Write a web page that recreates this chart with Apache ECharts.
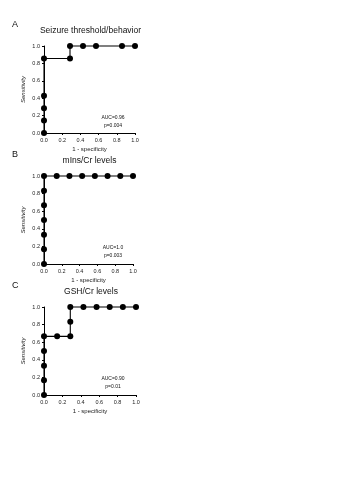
<!DOCTYPE html>
<html>
<head>
<meta charset="utf-8">
<script src="https://cdn.jsdelivr.net/npm/echarts@6/dist/echarts.min.js"></script>
<style>
  html, body { margin: 0; padding: 0; background: #fff; }
  #chart { width: 339px; height: 480px; }
</style>
</head>
<body>
<div id="chart"></div>
<script>
// ROC curves: [1 - specificity, sensitivity] pairs per panel
const seizureRoc = [
  [0, 0], [0, 1/7], [0, 2/7], [0, 3/7], [0, 6/7],
  [2/7, 6/7], [2/7, 1], [3/7, 1], [4/7, 1], [6/7, 1], [1, 1]
];
const minsRoc = [
  [0, 0], [0, 1/6], [0, 2/6], [0, 3/6], [0, 4/6], [0, 5/6], [0, 1],
  [1/7, 1], [2/7, 1], [3/7, 1], [4/7, 1], [5/7, 1], [6/7, 1], [1, 1]
];
const gshRoc = [
  [0, 0], [0, 1/6], [0, 2/6], [0, 3/6], [0, 4/6],
  [1/7, 4/6], [2/7, 4/6], [2/7, 5/6], [2/7, 1],
  [3/7, 1], [4/7, 1], [5/7, 1], [6/7, 1], [1, 1]
];
const panelLetters = ['A', 'B', 'C'];
const panelTitles = ['Seizure threshold/behavior', 'mIns/Cr levels', 'GSH/Cr levels'];
const aucTexts = ['AUC=0.96', 'AUC=1.0', 'AUC=0.90'];
const pTexts = ['p=0.004', 'p=0.003', 'p=0.01'];
const tickLabels = ['0.0', '0.2', '0.4', '0.6', '0.8', '1.0'];

const FONT = '"Liberation Sans", Arial, sans-serif';
const grids = [
  { left: 44, top: 46, width: 91, height: 87 },
  { left: 44, top: 176, width: 89, height: 88 },
  { left: 44, top: 307, width: 92, height: 88 }
];
const allData = [seizureRoc, minsRoc, gshRoc];

function axisCommon(isY, gi) {
  return {
    type: 'value', gridIndex: gi, min: 0, max: 1, interval: 0.2,
    axisLine: { show: true, onZero: false, lineStyle: { color: '#000', width: 1 } },
    axisTick: { show: true, length: 2, lineStyle: { color: '#000', width: 1 } },
    splitLine: { show: false },
    axisLabel: {
      fontFamily: FONT, fontSize: 5.5, color: '#222', margin: 4,
      formatter: v => tickLabels[Math.round(v * 5)]
    },
    name: isY ? 'Sensitivity' : '1 - specificity',
    nameLocation: 'middle',
    nameGap: isY ? 18 : 13,
    nameTextStyle: { fontFamily: FONT, fontSize: 6, color: '#222', fontStyle: isY ? 'italic' : 'normal' }
  };
}

const graphic = [];
grids.forEach((g, i) => {
  graphic.push({
    type: 'text', left: 12, top: g.top - 26,
    style: { text: panelLetters[i], fontFamily: FONT, fontSize: 9, fill: '#111' }
  });
  graphic.push({
    type: 'text', x: g.left + g.width / 2 + 1, y: g.top - 15,
    style: { text: panelTitles[i], fontFamily: FONT, fontSize: 8.5, fill: '#111', align: 'center', verticalAlign: 'middle' }
  });
  graphic.push({
    type: 'text', x: g.left + 69, y: g.top + 72,
    style: { text: aucTexts[i], fontFamily: FONT, fontSize: 5, fill: '#111', align: 'center', verticalAlign: 'middle' }
  });
  graphic.push({
    type: 'text', x: g.left + 69, y: g.top + 80,
    style: { text: pTexts[i], fontFamily: FONT, fontSize: 5, fill: '#111', align: 'center', verticalAlign: 'middle' }
  });
});

const option = {
  animation: false,
  backgroundColor: '#fff',
  grid: grids,
  xAxis: grids.map((g, i) => axisCommon(false, i)),
  yAxis: grids.map((g, i) => axisCommon(true, i)),
  series: allData.map((d, i) => ({
    type: 'line', xAxisIndex: i, yAxisIndex: i, data: d,
    symbol: 'circle', symbolSize: 6, clip: false,
    lineStyle: { color: '#000', width: 1.1 },
    itemStyle: { color: '#000' }
  })),
  graphic: graphic
};

echarts.init(document.getElementById('chart'), null, { renderer: 'canvas' }).setOption(option);
</script>
</body>
</html>
